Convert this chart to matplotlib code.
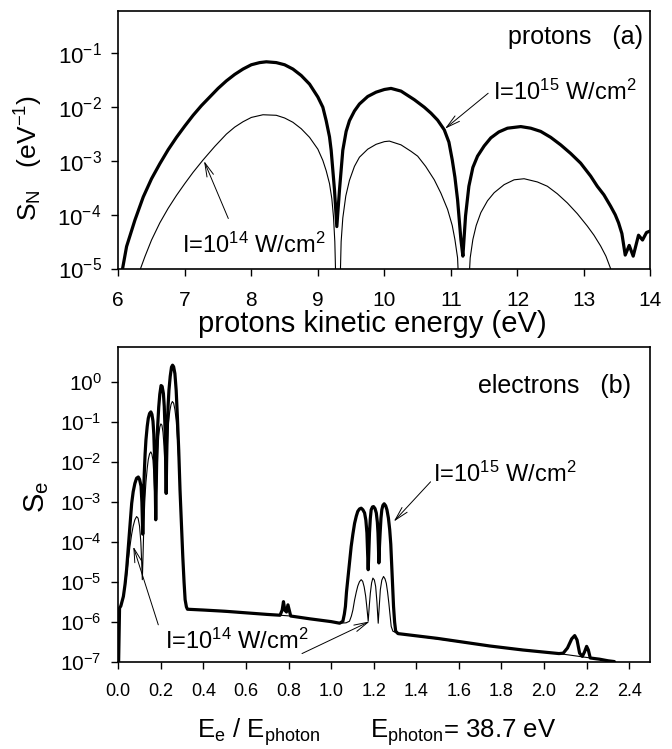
import matplotlib
matplotlib.use("Agg")
import matplotlib.pyplot as plt
import numpy as np

plt.rcParams['font.family'] = 'Liberation Sans'
plt.rcParams['mathtext.fontset'] = 'custom'
plt.rcParams['mathtext.rm'] = 'Liberation Sans'
plt.rcParams['mathtext.it'] = 'Liberation Sans:italic'
plt.rcParams['mathtext.bf'] = 'Liberation Sans:bold'
plt.rcParams['mathtext.default'] = 'regular'

# ---- (a) protons: kinetic energy (eV) and log10 of S_N ----
p15_x = [6.05, 6.065, 6.125, 6.25, 6.375, 6.5, 6.625, 6.75, 6.875, 7.0, 7.125, 7.25, 7.375, 7.5,
         7.625, 7.75, 7.875, 8.0, 8.125, 8.225, 8.375, 8.5, 8.625, 8.75, 8.875, 9.0, 9.075, 9.125,
         9.175, 9.2, 9.25, 9.285, 9.325, 9.375, 9.425, 9.475, 9.55, 9.625, 9.75, 9.875, 10.0, 10.1,
         10.25, 10.45, 10.6, 10.7, 10.8, 10.9, 10.97, 11.02, 11.06, 11.1, 11.15, 11.18, 11.22, 11.27,
         11.33, 11.4, 11.5, 11.6, 11.72, 11.85, 12.05, 12.2, 12.35, 12.5, 12.65, 12.8, 12.95, 13.1,
         13.2, 13.3, 13.4, 13.47, 13.52, 13.57, 13.62, 13.68, 13.74, 13.82, 13.88, 13.94, 14.0]
p15_log = [-5.15, -5.0, -4.59, -4.10, -3.67, -3.33, -3.05, -2.79, -2.56, -2.35, -2.15, -1.97, -1.81, -1.65,
           -1.51, -1.39, -1.29, -1.21, -1.17, -1.155, -1.17, -1.21, -1.29, -1.41, -1.57, -1.81, -2.0, -2.25,
           -2.55, -2.80, -3.54, -4.22, -3.54, -2.80, -2.45, -2.25, -2.07, -1.94, -1.80, -1.72, -1.67, -1.65,
           -1.70, -1.86, -2.0, -2.11, -2.24, -2.42, -2.65, -2.98, -3.3, -3.72, -4.46, -4.77, -4.02, -3.47,
           -3.12, -2.91, -2.72, -2.57, -2.46, -2.39, -2.36, -2.39, -2.45, -2.56, -2.70, -2.86, -3.04, -3.28,
           -3.47, -3.63, -3.84, -4.0, -4.15, -4.35, -4.75, -4.57, -4.77, -4.38, -4.47, -4.33, -4.30]

p14_x = [6.3, 6.335, 6.4, 6.5, 6.625, 6.75, 6.875, 7.0, 7.125, 7.275, 7.45, 7.625, 7.75, 7.875, 8.0,
         8.175, 8.375, 8.5, 8.625, 8.75, 8.875, 9.0, 9.075, 9.125, 9.175, 9.21, 9.235, 9.255, 9.275,
         9.33, 9.35, 9.375, 9.42, 9.475, 9.55, 9.625, 9.75, 9.875, 10.0, 10.075, 10.25, 10.4, 10.5,
         10.62, 10.75, 10.85, 10.95, 11.02, 11.06, 11.1, 11.125, 11.26, 11.29, 11.33, 11.38, 11.45,
         11.55, 11.65, 11.8, 11.95, 12.1, 12.3, 12.45, 12.6, 12.75, 12.9, 13.05, 13.15, 13.25, 13.33,
         13.4, 13.43]
p14_log = [-5.3, -5.0, -4.78, -4.47, -4.15, -3.88, -3.64, -3.42, -3.21, -2.98, -2.73, -2.50, -2.37, -2.27, -2.19,
           -2.14, -2.15, -2.20, -2.28, -2.40, -2.56, -2.78, -2.99, -3.18, -3.42, -3.7, -4.04, -4.5, -5.5,
           -5.5, -4.5, -4.06, -3.65, -3.36, -3.10, -2.93, -2.78, -2.69, -2.64, -2.63, -2.70, -2.82, -2.91,
           -3.10, -3.35, -3.6, -3.90, -4.2, -4.46, -4.8, -5.5, -5.5, -4.8, -4.46, -4.2, -3.96,
           -3.74, -3.59, -3.44, -3.35, -3.33, -3.39, -3.47, -3.61, -3.78, -3.98, -4.21, -4.38, -4.58, -4.77,
           -5.0, -5.3]

# ---- (b) electrons: Ee/Ephoton and log10 of S_e ----
e15_x = [0.0, 0.003, 0.006, 0.012, 0.024, 0.032, 0.039, 0.046, 0.052, 0.058, 0.063, 0.07, 0.078, 0.086,
         0.094, 0.1, 0.107, 0.111, 0.115, 0.118, 0.122, 0.126, 0.13, 0.136, 0.141, 0.147, 0.153, 0.158,
         0.163, 0.167, 0.17, 0.174, 0.176, 0.178, 0.181, 0.185, 0.19, 0.195, 0.201, 0.206, 0.212, 0.216,
         0.22, 0.223, 0.225, 0.227, 0.23, 0.234, 0.238, 0.244, 0.25, 0.255, 0.26, 0.266, 0.272, 0.278,
         0.284, 0.29, 0.297, 0.303, 0.309, 0.314, 0.32, 0.325, 0.4, 0.5, 0.6, 0.7, 0.76, 0.77, 0.776,
         0.782, 0.79, 0.797, 0.803, 0.81, 0.9, 1.0, 1.04, 1.055, 1.062, 1.067, 1.072, 1.078, 1.086,
         1.094, 1.102, 1.11, 1.118, 1.125, 1.133, 1.141, 1.149, 1.157, 1.163, 1.168, 1.171, 1.174,
         1.177, 1.18, 1.184, 1.188, 1.194, 1.199, 1.206, 1.212, 1.217, 1.22, 1.222, 1.224, 1.227, 1.23,
         1.234, 1.238, 1.243, 1.249, 1.256, 1.262, 1.269, 1.275, 1.28, 1.284, 1.289, 1.293, 1.298,
         1.303, 1.314, 1.5, 1.745, 1.9, 2.07, 2.09, 2.11, 2.13, 2.144, 2.155, 2.167, 2.18, 2.19, 2.2,
         2.208, 2.217, 2.23, 2.245, 2.26, 2.28, 2.3, 2.33, 2.34]
e15_log = [-7.5, -6.5, -5.65, -5.6, -5.36, -5.05, -4.69, -4.2, -3.78, -3.35, -3.03, -2.74, -2.53, -2.40,
           -2.37, -2.43, -2.6, -3.0, -3.8, -3.0, -2.3, -1.8, -1.44, -1.1, -0.9, -0.78, -0.74, -0.8,
           -0.97, -1.3, -1.8, -2.7, -3.44, -2.7, -1.8, -1.1, -0.62, -0.3, -0.08, -0.1, -0.28, -0.6,
           -1.2, -2.0, -2.78, -2.0, -1.2, -0.6, -0.2, 0.15, 0.38, 0.43, 0.39, 0.22, -0.2, -0.9,
           -1.7, -2.69, -3.6, -4.36, -5.0, -5.44, -5.62, -5.68, -5.7, -5.73, -5.77, -5.81, -5.83, -5.7, -5.49,
           -5.7, -5.75, -5.57, -5.7, -5.85, -5.92, -5.99, -6.03, -5.98, -5.8, -5.61, -5.25, -4.94, -4.5,
           -4.11, -3.8, -3.53, -3.35, -3.23, -3.17, -3.15, -3.19, -3.27, -3.45, -3.77, -4.2, -4.69,
           -4.2, -3.77, -3.4, -3.19, -3.12, -3.11, -3.16, -3.27, -3.5, -3.77, -4.1, -4.52, -4.1, -3.77,
           -3.4, -3.19, -3.08, -3.04, -3.09, -3.19, -3.4, -3.69, -4.05, -4.52, -5.1, -5.61, -6.0,
           -6.23, -6.29, -6.41, -6.6, -6.7, -6.79, -6.78, -6.65, -6.42, -6.34, -6.45, -6.78, -6.86, -6.75, -6.61,
           -6.7, -6.9, -6.91, -6.92, -6.93, -6.95, -6.97, -6.99, -7.1]

e14_x = [0.0, 0.003, 0.006, 0.012, 0.024, 0.032, 0.039, 0.046, 0.055, 0.063, 0.07, 0.078, 0.086, 0.093,
         0.1, 0.106, 0.11, 0.113, 0.116, 0.12, 0.125, 0.13, 0.136, 0.141, 0.147, 0.153, 0.158, 0.163,
         0.167, 0.171, 0.174, 0.176, 0.178, 0.182, 0.186, 0.19, 0.195, 0.2, 0.205, 0.21, 0.215, 0.22,
         0.225, 0.228, 0.232, 0.236, 0.242, 0.248, 0.254, 0.26, 0.266, 0.272, 0.278, 0.284, 0.29, 0.297,
         0.303, 0.309, 0.314, 0.32, 0.325, 0.76, 0.81, 1.0, 1.04, 1.07, 1.086, 1.095, 1.102, 1.11, 1.118,
         1.125, 1.133, 1.141, 1.148, 1.155, 1.162, 1.168, 1.174, 1.179, 1.184, 1.19, 1.196, 1.203,
         1.209, 1.215, 1.221, 1.226, 1.231, 1.238, 1.246, 1.253, 1.259, 1.265, 1.271, 1.277, 1.282,
         1.29, 1.303, 1.314, 1.745, 2.07, 2.245, 2.33, 2.34]
e14_log = [-7.5, -6.5, -5.65, -5.6, -5.36, -5.1, -4.85, -4.5, -4.1, -3.8, -3.6, -3.44, -3.36, -3.4,
           -3.6, -4.0, -4.5, -4.94, -4.4, -3.6, -2.9, -2.5, -2.15, -1.93, -1.79, -1.74, -1.8, -1.95,
           -2.3, -2.8, -3.2, -3.44, -3.0, -2.3, -1.7, -1.35, -1.12, -1.04, -1.07, -1.25, -1.6, -2.2,
           -2.78, -2.0, -1.4, -1.0, -0.72, -0.55, -0.48, -0.52, -0.68, -0.95, -1.4, -1.95, -2.69, -3.6,
           -4.36, -5.0, -5.44, -5.62, -5.68, -5.83, -5.85, -5.99, -6.03, -6.02, -5.98, -5.85, -5.7, -5.45, -5.25,
           -5.1, -4.99, -4.94, -4.98, -5.12, -5.35, -5.65, -5.98, -5.6, -5.28, -5.02, -4.9, -4.95,
           -5.11, -5.5, -6.03, -5.6, -5.19, -4.95, -4.86, -4.92, -5.03, -5.25, -5.53, -5.85, -6.11,
           -6.23, -6.26, -6.29, -6.6, -6.79, -6.92, -6.99, -7.1]

top_xticks = [6, 7, 8, 9, 10, 11, 12, 13, 14]
top_yexp = [-5, -4, -3, -2, -1]
bot_xticks = [0.0, 0.2, 0.4, 0.6, 0.8, 1.0, 1.2, 1.4, 1.6, 1.8, 2.0, 2.2, 2.4]
bot_yexp = [-7, -6, -5, -4, -3, -2, -1, 0]

fig = plt.figure(figsize=(6.72, 7.49), dpi=100)
ax1 = fig.add_axes([0.176, 0.6415, 0.792, 0.344])
ax2 = fig.add_axes([0.176, 0.1162, 0.792, 0.4209])

thick = 2.3
thin = 0.8
arr = dict(arrowstyle='->,head_length=1.0,head_width=0.25', lw=0.7, color='black',
           shrinkA=0, shrinkB=0, mutation_scale=10)

# ---------- panel (a) ----------
ax1.plot(p15_x, 10 ** np.array(p15_log), color='black', lw=thick)
ax1.plot(p14_x, 10 ** np.array(p14_log), color='black', lw=thin)
ax1.set_yscale('log')
ax1.set_xlim(6, 14)
ax1.set_ylim(1e-5, 0.62)
ax1.set_xticks(top_xticks)
ax1.set_xticklabels([str(t) for t in top_xticks], fontsize=15)
ax1.set_yticks([10.0 ** e for e in top_yexp])
ax1.set_yticklabels(['$10^{%d}$' % e for e in top_yexp], fontsize=16)
ax1.yaxis.set_minor_locator(matplotlib.ticker.NullLocator())
ax1.set_xlabel('protons kinetic energy (eV)', fontsize=21)
ax1.xaxis.set_label_coords(0.478, -0.16)
ax1.set_ylabel('S$_N$   (eV$^{-1}$)', fontsize=19, va='center')
ax1.yaxis.set_label_coords(-0.168, 0.43)

ax1.text(0.985, 0.90, 'protons   (a)', transform=ax1.transAxes, ha='right', va='center', fontsize=18)
ax1.text(0.704, 0.685, 'I=10$^{15}$ W/cm$^{2}$', transform=ax1.transAxes, ha='left', va='center', fontsize=17)
ax1.annotate('', xy=(10.91, 10 ** -2.40), xytext=(11.56, 10 ** -1.74), arrowprops=arr)
ax1.text(0.119, 0.091, 'I=10$^{14}$ W/cm$^{2}$', transform=ax1.transAxes, ha='left', va='center', fontsize=17)
ax1.annotate('', xy=(7.289, 10 ** -3.0), xytext=(7.654, 10 ** -4.07), arrowprops=arr)

# ---------- panel (b) ----------
ax2.plot(e15_x, 10 ** np.array(e15_log), color='black', lw=thick)
ax2.plot(e14_x, 10 ** np.array(e14_log), color='black', lw=thin)
ax2.set_yscale('log')
ax2.set_xlim(0, 2.5)
ax2.set_ylim(1e-7, 7.8)
ax2.set_xticks(bot_xticks)
ax2.set_xticklabels(['%.1f' % t for t in bot_xticks], fontsize=13)
ax2.set_yticks([10.0 ** e for e in bot_yexp])
ax2.set_yticklabels(['$10^{%d}$' % e for e in bot_yexp], fontsize=15)
ax2.yaxis.set_minor_locator(matplotlib.ticker.NullLocator())
ax2.text(0.148, -0.24, 'E$_e$ / E$_{photon}$', transform=ax2.transAxes, ha='left', va='baseline', fontsize=18.5)
ax2.text(0.473, -0.24, 'E$_{photon}$= 38.7 eV', transform=ax2.transAxes, ha='left', va='baseline', fontsize=18.5)
ax2.set_ylabel('S$_e$', fontsize=21, va='center')
ax2.yaxis.set_label_coords(-0.153, 0.523)

ax2.text(0.964, 0.875, 'electrons   (b)', transform=ax2.transAxes, ha='right', va='center', fontsize=18)
ax2.text(0.591, 0.596, 'I=10$^{15}$ W/cm$^{2}$', transform=ax2.transAxes, ha='left', va='center', fontsize=17)
ax2.annotate('', xy=(1.294, 10 ** -3.485), xytext=(1.467, 10 ** -2.49), arrowprops=arr)
ax2.text(0.0877, 0.0666, 'I=10$^{14}$ W/cm$^{2}$', transform=ax2.transAxes, ha='left', va='center', fontsize=17)
ax2.annotate('', xy=(0.0706, 10 ** -4.11), xytext=(0.188, 10 ** -6.07), arrowprops=arr)
ax2.annotate('', xy=(1.181, 10 ** -5.985), xytext=(0.863, 10 ** -6.79), arrowprops=arr)

for ax in (ax1, ax2):
    ax.tick_params(direction='out', length=5, width=1, top=False, right=False)
    ax.tick_params(axis='y', pad=7)
    for s in ax.spines.values():
        s.set_linewidth(1.2)
ax1.tick_params(axis='x', pad=11)
ax2.tick_params(axis='x', pad=10)

fig.savefig('out.png', dpi=100)
